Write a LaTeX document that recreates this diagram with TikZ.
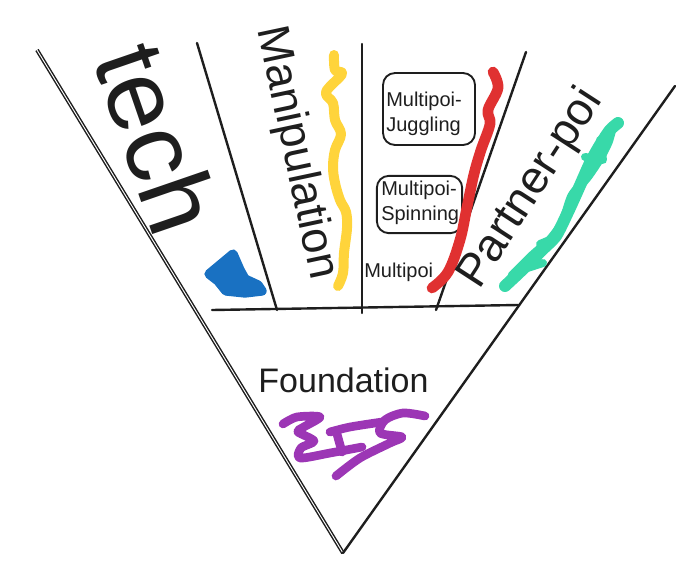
\documentclass[tikz,border=0pt]{standalone}
\usepackage{fontspec}
\setmainfont{Liberation Sans}
\definecolor{inkc}{HTML}{1E1E1E}
\definecolor{yel}{HTML}{FFD43B}
\definecolor{redc}{HTML}{E03131}
\definecolor{bluec}{HTML}{1971C2}
\definecolor{tealc}{HTML}{38D9A9}
\definecolor{purc}{HTML}{9C36B5}
\begin{document}
\begin{tikzpicture}[x=0.75pt,y=-0.75pt,
  edge/.style={line width=1.8pt, draw=inkc, line cap=round},
  scrib/.style={line width=7.5pt, line cap=round, line join=round},
  mbox/.style={draw=inkc, line width=1.4pt, rounded corners=9pt, inner sep=0pt},
  lbl/.style={text=inkc, inner sep=0pt}]
\useasboundingbox (0,0) rectangle (688,564);
% frame coordinates
\coordinate (tl) at (37,50);
\coordinate (bot) at (343,553);
\coordinate (tr) at (675,86);
\coordinate (hl) at (212,310);
\coordinate (hr) at (518,305);
\coordinate (d1t) at (197,43); \coordinate (d1b) at (277,310);
\coordinate (d2t) at (362,44); \coordinate (d2b) at (362,313);
\coordinate (d3t) at (526,52); \coordinate (d3b) at (436,310);
% lines
\draw[line width=1.1pt, draw=inkc, double=white, double distance=0.7pt] (tl) -- (bot);
\draw[edge] (bot) -- (tr);
\draw[edge] (hl) -- (hr);
\draw[edge] (d1t) -- (d1b);
\draw[edge] (d2t) -- (d2b);
\draw[edge] (d3t) -- (d3b);
% boxes
\node[mbox, minimum width=69pt, minimum height=54pt] (box1) at (429,109) {};
\node[mbox, minimum width=64pt, minimum height=43pt] (box2) at (419.5,204.5) {};
% scribbles
\draw[scrib, yel] plot[smooth, tension=0.6] coordinates {(334,55) (335,70) (342,74) (326,92) (333,103) (335,120) (341,134) (335,150) (333,167) (335,183) (340,200) (346,212) (347,228) (344,253) (343,273) (338,286)};
\draw[scrib, redc, line width=8pt] plot[smooth, tension=0.6] coordinates {(493,72) (498,88) (488,110) (490,124) (481,150) (474,174) (467,207) (460,240) (448,272) (432,288)};
\draw[scrib, tealc, line width=9pt] plot[smooth, tension=0.4] coordinates {(505,286) (520,272) (540,252) (556,236) (568,212) (578,190) (590,163) (600,145) (610,130) (618,123)};
\draw[scrib, tealc, line width=7pt] plot[smooth, tension=0.4] coordinates {(512,276) (532,256) (550,240) (563,222) (572,196) (588,176) (600,158) (608,142) (612,128)};
\draw[scrib, tealc, line width=6pt] (585,157) -- (603,160) -- (600,140);
\draw[scrib, tealc, line width=6pt] (515,272) -- (543,263);
\draw[scrib, tealc, line width=6pt] (540,244) -- (557,237);
\filldraw[scrib, bluec, line width=7pt] (233,254) -- (209,274) -- (218,281) -- (226,291) -- (245,293) -- (262,291) -- (258,285) -- (245,279) -- (240,270) -- cycle;
\draw[scrib, purc, line width=6.5pt] plot[smooth, tension=0.5] coordinates {(283,424) (297,417) (320,417) (302,428) (298,432) (314,441) (301,448) (300,458) (330,453) (362,447)};
\draw[scrib, purc, line width=6.5pt] plot[smooth, tension=0.5] coordinates {(330,432) (350,427) (382,422)};
\draw[scrib, purc, line width=6.5pt] plot[smooth, tension=0.5] coordinates {(337,434) (342,452)};
\draw[scrib, purc, line width=6.5pt] plot[smooth, tension=0.5] coordinates {(425,416) (403,413) (385,420) (380,433) (402,437) (390,443) (360,458) (336,476)};
% texts
\node[lbl, font=\fontsize{76}{76}\selectfont, rotate=-71] (tech) at (158,138) {tech};
\node[lbl, font=\fontsize{34}{34}\selectfont, rotate=-78] (manip) at (296,153) {Manipulation};
\node[lbl, font=\fontsize{34.5}{34.5}\selectfont, rotate=57] (partner) at (531,189) {Partner-poi};
\node[lbl, font=\fontsize{25.5}{25.5}\selectfont, anchor=base] (found) at (343.5,392) {Foundation};
\node[lbl, font=\fontsize{15}{18.75}\selectfont, align=left, anchor=west] (t1) at (386,114) {Multipoi-\\Juggling};
\node[lbl, font=\fontsize{15}{18.75}\selectfont, align=left, anchor=west] (t2) at (381,203) {Multipoi-\\Spinning};
\node[lbl, font=\fontsize{15}{15}\selectfont, anchor=base west] (t3) at (364,277) {Multipoi};
\end{tikzpicture}
\end{document}
